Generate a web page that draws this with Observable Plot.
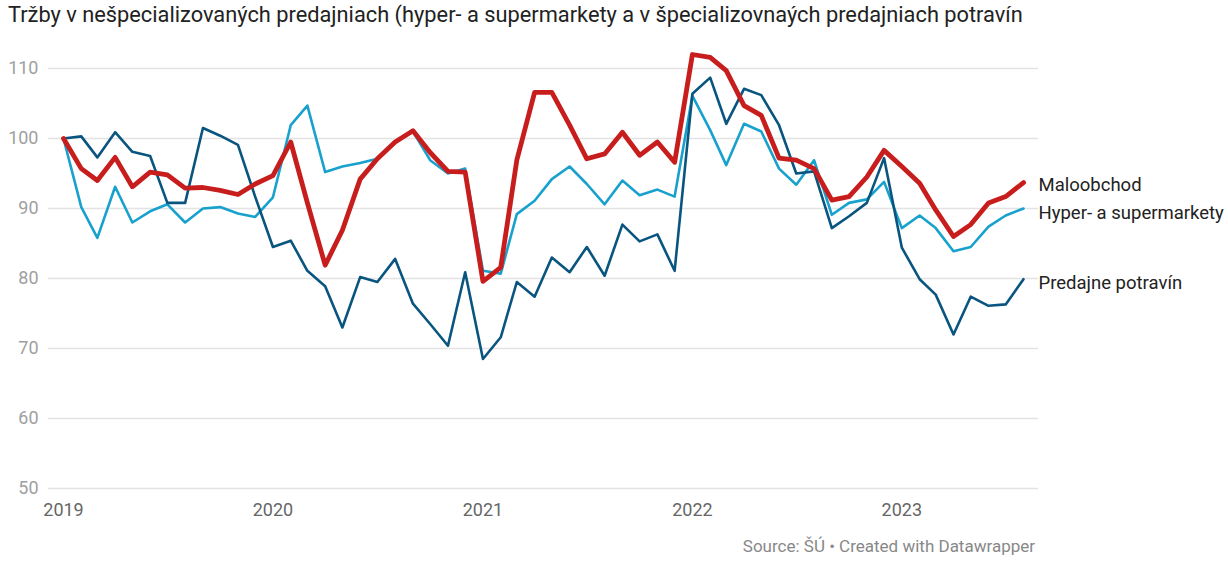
<!DOCTYPE html>
<html>
<head>
<meta charset="utf-8">
<script src="https://cdn.jsdelivr.net/npm/d3@7"></script>
<script src="https://cdn.jsdelivr.net/npm/@observablehq/plot@0.6"></script>
<style>
  body { margin: 0; background: #fff; font-family: Roboto, sans-serif; }
  #wrap { position: relative; width: 1228px; height: 561px; overflow: hidden; }
  #title { position: absolute; left: 8px; top: 2px; font-size: 21.8px; line-height: 26px; color: #222; white-space: nowrap; }
  #chart { position: absolute; left: 0; top: 40px; }
  #source { position: absolute; right: 193px; top: 536px; font-size: 17px; line-height: 20px; color: #888; white-space: nowrap; }
</style>
</head>
<body>
<div id="wrap">
  <div id="title">Tržby v nešpecializovaných predajniach (hyper- a supermarkety a v špecializovnaých predajniach potravín</div>
  <div id="chart"></div>
  <div id="source">Source: ŠÚ • Created with Datawrapper</div>
</div>
<script>
// Monthly index values, Jan 2019 – Aug 2023
const startMonth = "2019-01";
const maloobchod = [
  100, 95.7, 94.0, 97.3, 93.1, 95.2, 94.8, 92.9, 93.0, 92.6, 92.0, 93.5,
  94.7, 99.5, 90.8, 81.9, 86.9, 94.2, 97.1, 99.5, 101.1, 98.0, 95.3, 95.2,
  79.6, 81.6, 96.9, 106.6, 106.6, 101.9, 97.1, 97.8, 100.9, 97.6, 99.5, 96.6,
  112.0, 111.6, 109.7, 104.7, 103.3, 97.2, 96.9, 95.7, 91.2, 91.7, 94.5, 98.3,
  96.0, 93.6, 89.8, 86.0, 87.7, 90.8, 91.7, 93.7
];
const hyper = [
  100, 90.2, 85.8, 93.1, 88.0, 89.6, 90.6, 88.0, 90.0, 90.2, 89.3, 88.8,
  91.6, 101.9, 104.7, 95.2, 96.0, 96.5, 97.1, 99.5, 101.0, 96.9, 95.0, 95.7,
  81.1, 80.7, 89.2, 91.1, 94.2, 96.0, 93.5, 90.6, 94.0, 91.9, 92.7, 91.7,
  106.1, 101.2, 96.2, 102.1, 101.0, 95.7, 93.4, 96.9, 89.1, 90.8, 91.3, 93.8,
  87.2, 89.0, 87.2, 83.9, 84.5, 87.4, 89.0, 90.0
];
const potraviny = [
  100, 100.3, 97.3, 100.9, 98.1, 97.5, 90.8, 90.8, 101.5, 100.4, 99.1, 91.7,
  84.5, 85.4, 81.1, 78.9, 73.0, 80.2, 79.5, 82.8, 76.4, 73.5, 70.4, 80.9,
  68.5, 71.6, 79.5, 77.4, 83.0, 80.9, 84.5, 80.4, 87.7, 85.3, 86.3, 81.1,
  106.4, 108.7, 102.1, 107.1, 106.2, 101.9, 95.0, 95.3, 87.2, 88.9, 90.8, 97.2,
  84.4, 79.9, 77.7, 72.0, 77.4, 76.1, 76.3, 79.9
];
const seriesNames = ["Maloobchod", "Hyper- a supermarkety", "Predajne potravín"];
const seriesColors = ["#c71e1d", "#18a1cd", "#09557f"];
const yearLabels = ["2019", "2020", "2021", "2022", "2023"];
const yTicks = [50, 60, 70, 80, 90, 100, 110];

const start = new Date(startMonth + "-01T00:00:00Z");
const months = maloobchod.map((_, i) => d3.utcMonth.offset(start, i));
const yearTicks = yearLabels.map(y => new Date(y + "-01-01T00:00:00Z"));

const rows = (vals, name) => vals.map((v, i) => ({date: months[i], value: v, series: name}));
const dMalo = rows(maloobchod, seriesNames[0]);
const dHyper = rows(hyper, seriesNames[1]);
const dPotr = rows(potraviny, seriesNames[2]);
const lastPts = [dMalo, dHyper, dPotr].map(d => d[d.length - 1]);
const labelDy = {"Maloobchod": 2, "Hyper- a supermarkety": 5, "Predajne potravín": 4};

const chart = Plot.plot({
  width: 1228,
  height: 490,
  marginTop: 28,
  marginBottom: 42,
  marginLeft: 48,
  marginRight: 190,
  insetLeft: 15,
  insetRight: 15,
  style: {fontFamily: "Roboto, sans-serif", fontSize: "18px", background: "#fff", overflow: "visible"},
  x: {type: "utc", domain: [months[0], months[months.length - 1]]},
  y: {domain: [50, 110]},
  marks: [
    Plot.gridY(yTicks, {stroke: "#e3e3e3", strokeOpacity: 1, strokeWidth: 1.5}),
    Plot.axisY(yTicks, {tickSize: 0, tickPadding: 10, color: "#a0a0a0", fontSize: 18, label: null}),
    Plot.axisX(yearTicks, {tickSize: 0, tickPadding: 15, color: "#666", fontSize: 18, label: null,
      tickFormat: d => yearLabels[yearTicks.findIndex(t => +t === +d)]}),
    Plot.line(dHyper, {x: "date", y: "value", stroke: seriesColors[1], strokeWidth: 2.6, strokeLinejoin: "round"}),
    Plot.line(dPotr, {x: "date", y: "value", stroke: seriesColors[2], strokeWidth: 2.6, strokeLinejoin: "round"}),
    Plot.line(dMalo, {x: "date", y: "value", stroke: seriesColors[0], strokeWidth: 4.8, strokeLinejoin: "round", strokeLinecap: "round"}),
    ...lastPts.map(p => Plot.text([p], {x: "date", y: "value", text: "series", textAnchor: "start",
      dx: 15, dy: labelDy[p.series], fill: "#222", fontSize: 18.5}))
  ]
});
document.getElementById("chart").appendChild(chart);
</script>
</body>
</html>
